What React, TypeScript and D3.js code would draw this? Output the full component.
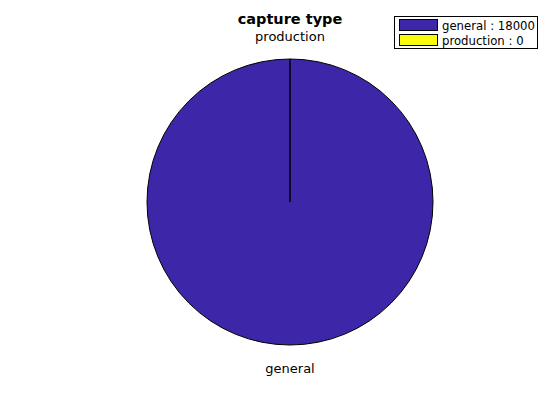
import React from "react";
import * as d3 from "d3";

const title = "capture type";
const categories = ["general", "production"];
const values = [18000, 0];
const colors = ["#3D26A8", "#F9FB0E"];

export default function App() {
  const W = 560, H = 420;
  const cx = 290, cy = 202, r = 143;
  const pie = d3.pie<number>().sort(null).startAngle(0).endAngle(2 * Math.PI);
  const arcs = pie(values);
  const arc = d3.arc<d3.PieArcDatum<number>>().innerRadius(0).outerRadius(r);
  const font = "DejaVu Sans, sans-serif";
  return (
    <svg width={W} height={H} style={{ position: "absolute", left: 0, top: 0, background: "#fff" }} fontFamily={font}>
      <rect x={0} y={0} width={W} height={H} fill="#fff" />
      <g transform={`translate(${cx},${cy})`}>
        {arcs.map((a, i) => (
          <path key={i} d={arc(a) || ""} fill={colors[i]} stroke="#000" strokeWidth={1} strokeLinejoin="round" />
        ))}
        {arcs.map((a, i) => {
          const mid = (a.startAngle + a.endAngle) / 2;
          const lx = Math.sin(mid) * r * 1.1;
          const ly = -Math.cos(mid) * r * 1.1;
          const top = Math.cos(mid) > 0;
          return (
            <text key={i} x={lx} y={top ? ly - 4 : ly + 14} textAnchor="middle" fontSize={13} fill="#000">
              {categories[i]}
            </text>
          );
        })}
      </g>
      <text x={cx} y={24} textAnchor="middle" fontSize={14.5} fontWeight="bold" fill="#000">{title}</text>
      <g>
        <rect x={394.5} y={16.5} width={143} height={32} fill="#fff" stroke="#000" strokeWidth={1} />
        {categories.map((c, i) => (
          <g key={c}>
            <rect x={399.5} y={19.5 + i * 15} width={38} height={11} fill={colors[i]} stroke="#000" strokeWidth={1} />
            <text x={442} y={29.5 + i * 15} fontSize={11.7} fill="#000">{`${c} : ${values[i]}`}</text>
          </g>
        ))}
      </g>
    </svg>
  );
}
